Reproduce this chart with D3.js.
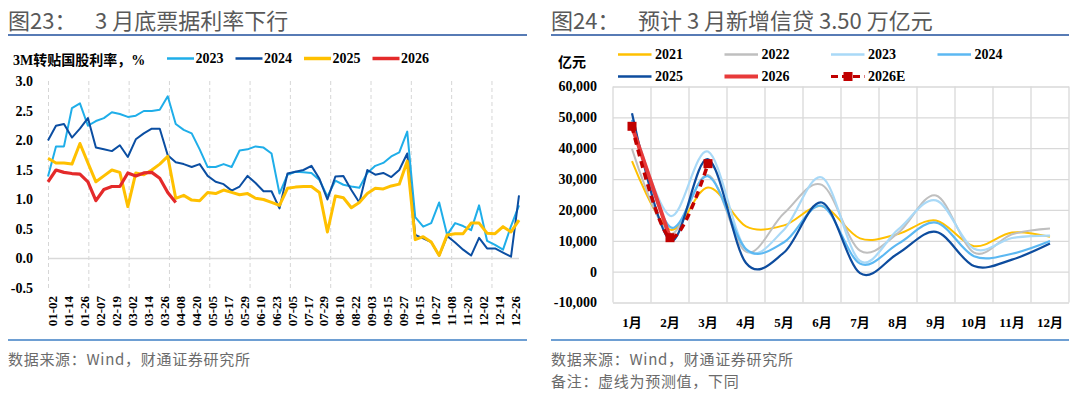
<!DOCTYPE html>
<html>
<head>
<meta charset="utf-8">
<script src="https://cdn.jsdelivr.net/npm/d3@7"></script>
<style>
    body { margin: 0; background: #ffffff; }
    svg { display: block; }
</style>
</head>
<body>
<svg id="chart" width="1080" height="395"></svg>
<script>

// ---- left panel data: 3M 转贴国股利率 (%), one sample every 6 date slots ----
const rateLabels = ["01-02", "01-14", "01-26", "02-07", "02-19", "03-02", "03-14", "03-26",
    "04-08", "04-20", "05-05", "05-17", "05-29", "06-10", "06-23", "07-05", "07-17", "07-29",
    "08-10", "08-22", "09-03", "09-15", "09-27", "10-15", "10-27", "11-08", "11-20", "12-02",
    "12-14", "12-26"];
const rateYears = ["2023", "2024", "2025", "2026"];
const rateTicks = [3.0, 2.5, 2.0, 1.5, 1.0, 0.5, 0.0, -0.5];

const rate2023 = [1.39, 1.9, 1.9, 2.55, 2.63, 2.25, 2.33, 2.38, 2.48, 2.45,
    2.4, 2.42, 2.5, 2.5, 2.52, 2.75, 2.28, 2.18, 2.12, 1.85,
    1.55, 1.55, 1.6, 1.55, 1.83, 1.85, 1.9, 1.88, 1.78, 1.1,
    1.42, 1.47, 1.46, 1.45, 1.33, 1.05, 1.32, 1.25, 1.22, 1.2,
    1.45, 1.57, 1.62, 1.73, 1.8, 2.15, 0.7, 0.54, 0.6, 0.95,
    0.4, 0.6, 0.55, 0.48, 0.9, 0.3, 0.23, 0.15, 0.55, 0.9];
const rate2024 = [2.0, 2.25, 2.28, 2.05, 2.2, 2.38, 1.88, 1.85, 1.82, 1.92,
    1.72, 2.02, 2.12, 2.2, 2.2, 1.75, 1.63, 1.6, 1.55, 1.6,
    1.4, 1.3, 1.26, 1.15, 1.22, 1.4, 1.28, 1.14, 1.14, 0.85,
    1.44, 1.47, 1.5, 1.57, 1.35, 1.0, 1.39, 1.4, 1.16, 0.95,
    1.5, 1.42, 1.45, 1.38, 1.5, 1.78, 0.4, 0.34, 0.28, 0.05,
    0.38, 0.27, 0.15, 0.05, 0.35, 0.17, 0.17, 0.1, 0.03, 1.07];
const rate2025 = [1.7, 1.62, 1.62, 1.6, 1.95, 1.62, 1.3, 1.4, 1.5, 1.46,
    0.88, 1.45, 1.42, 1.5, 1.6, 1.73, 1.02, 1.07, 0.99, 0.98,
    1.12, 1.1, 1.16, 1.12, 1.08, 1.1, 1.02, 1.0, 0.95, 0.9,
    1.19, 1.21, 1.22, 1.22, 1.12, 0.45, 1.06, 1.03, 0.86, 0.95,
    1.1, 1.19, 1.18, 1.23, 1.26, 1.65, 0.32, 0.37, 0.28, 0.05,
    0.4, 0.42, 0.42, 0.6, 0.6, 0.43, 0.42, 0.54, 0.45, 0.65];
const rate2026 = [1.3, 1.5, 1.46, 1.44, 1.43, 1.3, 0.98, 1.17, 1.22, 1.22,
    1.45, 1.4, 1.45, 1.46, 1.36, 1.12, 0.95];

// ---- right panel data: 新增信贷 (亿元) ----
const loanMonths = ["1月", "2月", "3月", "4月", "5月", "6月", "7月", "8月", "9月", "10月", "11月", "12月"];
const loanYears = ["2021", "2022", "2023", "2024", "2025", "2026", "2026E"];
const loanTicks = [60000, 50000, 40000, 30000, 20000, 10000, 0, -10000];

const loan2021 = [35800, 13600, 27300, 14700, 15000, 21200, 10800, 12200, 16600, 8262, 12700, 11300];
const loan2022 = [39800, 12300, 31300, 6454, 18900, 28100, 6790, 12500, 24700, 6152, 12100, 14000];
const loan2023 = [49000, 18100, 38900, 7188, 13600, 30500, 3459, 13600, 23100, 7384, 10900, 11700];
const loan2024 = [49200, 14500, 30900, 7300, 9500, 21300, 2600, 9000, 15900, 5000, 5800, 9900];
const loan2025 = [51300, 10100, 36400, 2800, 6200, 22400, -500, 5900, 12900, 1800, 3900, 9100];
const loan2026 = [47100, 11000];
const loan2026E = [47100, 11000, 35000];


const serif = "'Times New Roman', 'Liberation Serif', 'Noto Sans CJK SC', serif";
const sans = "'Microsoft YaHei', 'Noto Sans CJK SC', sans-serif";


// title, rules and source notes shared by both panels
function drawPanel(svg, x0, x1, head, title, notes) {

    svg.append("text")
        .attr("x", x0)
        .attr("y", 18.5)
        .attr("dominant-baseline", "central")
        .attr("font-family", sans)
        .attr("font-size", 22)
        .attr("fill", "#595959")
        .text(head);

    svg.append("text")
        .attr("x", x0 + 87)
        .attr("y", 18.5)
        .attr("dominant-baseline", "central")
        .attr("font-family", sans)
        .attr("font-size", 22)
        .attr("fill", "#595959")
        .text(title);

    svg.append("line")
        .attr("x1", x0).attr("x2", x1)
        .attr("y1", 35).attr("y2", 35)
        .attr("stroke", "#1F4F9C")
        .attr("stroke-width", 1.6);

    svg.append("line")
        .attr("x1", x0).attr("x2", x1)
        .attr("y1", 340).attr("y2", 340)
        .attr("stroke", "#3E7FC5")
        .attr("stroke-width", 1.6);

    for (var i = 0; i < notes.length; i += 1) {
        svg.append("text")
            .attr("x", x0)
            .attr("y", 358.5 + 22 * i)
            .attr("dominant-baseline", "central")
            .attr("font-family", sans)
            .attr("font-size", 15)
            .attr("letter-spacing", 0.7)
            .attr("fill", "#6b6b6b")
            .text(notes[i]);
    }
}


class RateChart {

    constructor(svg) {

        this.svg = svg;
        this.data = [rate2023, rate2024, rate2025, rate2026];

        // parameters
        this.left = 48;
        this.right = 519;
        this.top = 81.5;
        this.bottom = 288;
        this.step = 6;          // date slots per sample
        this.labelEvery = 12;   // date slots per label
        this.gridEvery = 30.3;  // date slots per month line
        this.color = ['#1FAEE9', '#0B4EA2', '#FFC000', '#E42A2A'];
        this.lineWidth = [2, 2, 3, 3.2];
    }

    setup() {
        drawPanel(this.svg, 8, 527, "图23：", "3 月底票据利率下行", ["数据来源：Wind，财通证券研究所"]);
        this.computeScales();
        this.drawGrid();
        this.drawAxes();
        this.drawLines();
        this.drawLegend();
    }

    computeScales() {
        var slots = (rate2023.length - 1) * this.step;
        this.x = d3.scaleLinear().domain([0, slots]).range([this.left, this.right]);
        this.y = d3.scaleLinear().domain([-0.5, 3.0]).range([this.bottom, this.top]);
    }

    drawGrid() {

        var grid = this.svg.append("g")
            .attr("transform", "translate(0," + this.bottom + ")")
            .call(d3.axisBottom(this.x)
                .tickValues(d3.range(0, this.x.domain()[1], this.gridEvery))
                .tickSize(-(this.bottom - 80))
                .tickFormat(""));

        grid.select(".domain").remove();
        grid.selectAll("line")
            .attr("stroke", "#d6d6d6")
            .attr("stroke-dasharray", "4,3");

        // zero line
        this.svg.append("line")
            .attr("x1", this.left).attr("x2", this.right)
            .attr("y1", this.y(0)).attr("y2", this.y(0))
            .attr("stroke", "#d9d9d9")
            .attr("stroke-width", 1.5);
    }

    drawAxes() {

        var yAxis = this.svg.append("g")
            .attr("transform", "translate(" + this.left + ",0)")
            .call(d3.axisLeft(this.y)
                .tickValues(rateTicks)
                .tickSize(0)
                .tickPadding(15)
                .tickFormat(d => d.toFixed(1)));

        yAxis.select(".domain").remove();
        yAxis.selectAll("text")
            .attr("font-family", serif)
            .attr("font-size", 14)
            .attr("font-weight", "bold")
            .attr("fill", "#000");

        var pos = rateLabels.map((d, i) => 3 + i * this.labelEvery);

        var xAxis = this.svg.append("g")
            .attr("transform", "translate(0," + this.bottom + ")")
            .call(d3.axisBottom(this.x)
                .tickValues(pos)
                .tickSize(0)
                .tickFormat((d, i) => rateLabels[i]));

        xAxis.select(".domain").remove();
        xAxis.selectAll("text")
            .attr("transform", "rotate(-90)")
            .attr("x", -8)
            .attr("y", 0)
            .attr("dy", "0.35em")
            .attr("text-anchor", "end")
            .attr("font-family", serif)
            .attr("font-size", 13)
            .attr("font-weight", "bold")
            .attr("fill", "#000");
    }

    drawLines() {

        var line = d3.line()
            .x((d, i) => this.x(i * this.step))
            .y(d => this.y(d));

        for (var idx = 0; idx < this.data.length; idx += 1) {

            this.svg.append("path")
                .attr("d", line(this.data[idx]))
                .attr("fill", "none")
                .attr("stroke", this.color[idx])
                .attr("stroke-width", this.lineWidth[idx])
                .attr("stroke-linejoin", "round");
        }
    }

    drawLegend() {

        this.svg.append("text")
            .attr("x", 13)
            .attr("y", 60)
            .attr("dominant-baseline", "central")
            .attr("font-family", serif)
            .attr("font-size", 14)
            .attr("font-weight", "bold")
            .text("3M转贴国股利率，%");

        for (var idx = 0; idx < rateYears.length; idx += 1) {

            var x = 167 + 68.5 * idx;

            this.svg.append("line")
                .attr("x1", x).attr("x2", x + 27)
                .attr("y1", 58.5).attr("y2", 58.5)
                .attr("stroke", this.color[idx])
                .attr("stroke-width", idx < 2 ? 2.5 : 3.5);

            this.svg.append("text")
                .attr("x", x + 28.5)
                .attr("y", 58.5)
                .attr("dominant-baseline", "central")
                .attr("font-family", serif)
                .attr("font-size", 14)
                .attr("font-weight", "bold")
                .text(rateYears[idx]);
        }
    }
}


class LoanChart {

    constructor(svg) {

        this.svg = svg;
        this.data = [loan2021, loan2022, loan2023, loan2024, loan2025, loan2026, loan2026E];

        // parameters
        this.left = 613;
        this.right = 1069;
        this.top = 86.5;
        this.bottom = 302.5;
        this.color = ['#FFC000', '#BFBFBF', '#A9D9F7', '#5CB8F2', '#0D4C9E', '#E83A3A', '#C00000'];
        this.lineWidth = [2, 2, 2.2, 2.2, 2.2, 4, 3.5];
    }

    setup() {
        drawPanel(this.svg, 551, 1069, "图24：", "预计 3 月新增信贷 3.50 万亿元",
            ["数据来源：Wind，财通证券研究所", "备注：虚线为预测值，下同"]);
        this.computeScales();
        this.drawGrid();
        this.drawAxes();
        this.drawLines();
        this.drawLegend();
    }

    computeScales() {
        this.x = d3.scaleBand().domain(loanMonths).range([this.left, this.right]);
        this.y = d3.scaleLinear().domain([-10000, 60000]).range([this.bottom, this.top]);
    }

    drawGrid() {

        var grid = this.svg.append("g")
            .attr("transform", "translate(" + this.left + ",0)")
            .call(d3.axisLeft(this.y)
                .tickValues(loanTicks)
                .tickSize(-(this.right - this.left))
                .tickFormat(""));

        grid.select(".domain").remove();
        grid.selectAll("line")
            .attr("stroke", "#d9d9d9")
            .attr("stroke-width", 1.3);

        var edges = loanMonths.map(m => this.x(m)).concat([this.x.range()[1]]);

        this.svg.append("g")
            .selectAll("line")
            .data(edges)
            .join("line")
            .attr("x1", d => d).attr("x2", d => d)
            .attr("y1", this.top).attr("y2", this.bottom)
            .attr("stroke", "#d9d9d9")
            .attr("stroke-width", 1.3);
    }

    drawAxes() {

        var fmt = d3.format(",");

        var yAxis = this.svg.append("g")
            .attr("transform", "translate(" + this.left + ",0)")
            .call(d3.axisLeft(this.y)
                .tickValues(loanTicks)
                .tickSize(0)
                .tickPadding(16)
                .tickFormat(d => (d < 0 ? "-" : "") + fmt(Math.abs(d))));

        yAxis.select(".domain").remove();
        yAxis.selectAll("text")
            .attr("font-family", serif)
            .attr("font-size", 14)
            .attr("font-weight", "bold")
            .attr("fill", "#000");

        var xAxis = this.svg.append("g")
            .attr("transform", "translate(0," + this.bottom + ")")
            .call(d3.axisBottom(this.x).tickSize(0).tickPadding(15));

        xAxis.select(".domain").remove();
        xAxis.selectAll("text")
            .attr("font-family", serif)
            .attr("font-size", 13)
            .attr("font-weight", "bold")
            .attr("fill", "#000");
    }

    drawLines() {

        var half = this.x.bandwidth() / 2;

        var line = d3.line()
            .x((d, i) => this.x(loanMonths[i]) + half)
            .y(d => this.y(d))
            .curve(d3.curveCardinal);

        for (var idx = 0; idx < this.data.length; idx += 1) {

            var path = this.svg.append("path")
                .attr("d", line(this.data[idx]))
                .attr("fill", "none")
                .attr("stroke", this.color[idx])
                .attr("stroke-width", this.lineWidth[idx]);

            // forecast series: dashed with square markers
            if (loanYears[idx] == "2026E") {

                path.attr("stroke-dasharray", "7,5");

                this.svg.append("g")
                    .selectAll("rect")
                    .data(this.data[idx])
                    .join("rect")
                    .attr("x", (d, i) => this.x(loanMonths[i]) + half - 4.5)
                    .attr("y", d => this.y(d) - 4.5)
                    .attr("width", 9)
                    .attr("height", 9)
                    .attr("fill", this.color[idx]);
            }
        }
    }

    drawLegend() {

        this.svg.append("text")
            .attr("x", 558)
            .attr("y", 62)
            .attr("dominant-baseline", "central")
            .attr("font-family", serif)
            .attr("font-size", 14)
            .attr("font-weight", "bold")
            .text("亿元");

        for (var idx = 0; idx < loanYears.length; idx += 1) {

            var x = 618 + 106.5 * (idx % 4);
            var y = 54.5 + 22 * Math.floor(idx / 4);

            var item = this.svg.append("line")
                .attr("x1", x).attr("x2", x + 33.5)
                .attr("y1", y).attr("y2", y)
                .attr("stroke", this.color[idx])
                .attr("stroke-width", idx == 5 ? 4 : (idx == 6 ? 3 : 2.5));

            if (loanYears[idx] == "2026E") {
                item.attr("stroke-dasharray", "7,4");
                this.svg.append("rect")
                    .attr("x", x + 12.5)
                    .attr("y", y - 4.5)
                    .attr("width", 9)
                    .attr("height", 9)
                    .attr("fill", this.color[idx]);
            }

            this.svg.append("text")
                .attr("x", x + 37)
                .attr("y", y)
                .attr("dominant-baseline", "central")
                .attr("font-family", serif)
                .attr("font-size", 14)
                .attr("font-weight", "bold")
                .text(loanYears[idx]);
        }
    }
}


var svg = d3.select("#chart");

var rates = new RateChart(svg);
rates.setup();

var loans = new LoanChart(svg);
loans.setup();

</script>
</body>
</html>
